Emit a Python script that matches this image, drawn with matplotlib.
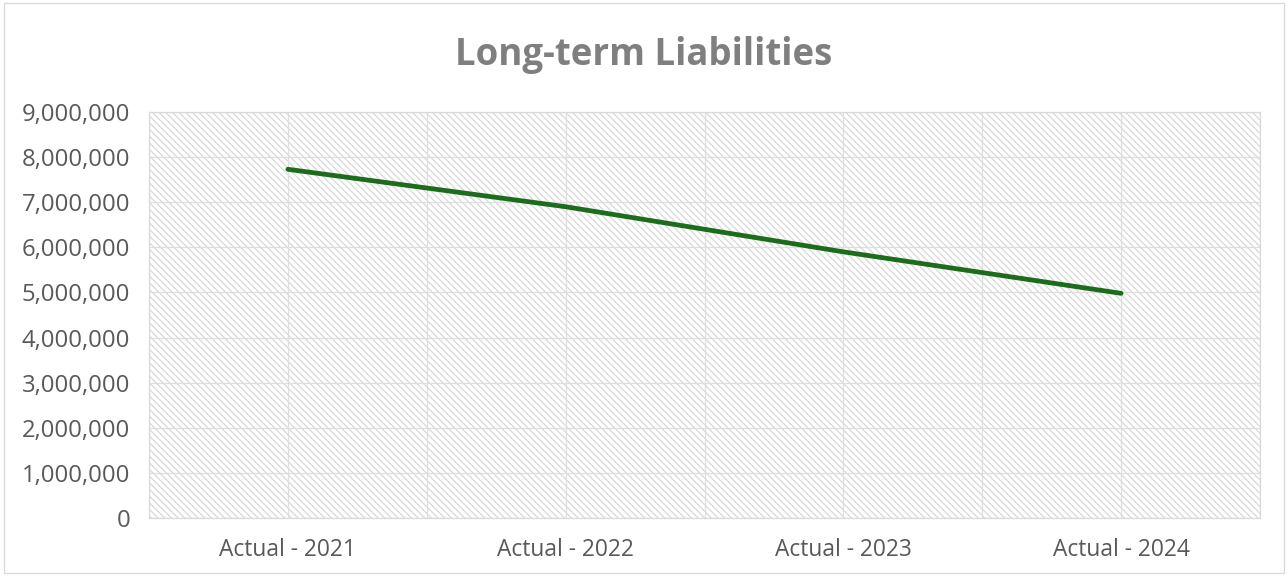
import matplotlib
matplotlib.use("Agg")
import matplotlib.pyplot as plt
from matplotlib.patches import Rectangle
from matplotlib.ticker import FuncFormatter

# --------------------------------------------------
# DATA
# --------------------------------------------------
periods = ["Actual - 2021", "Actual - 2022", "Actual - 2023", "Actual - 2024"]
liabilities = [7730000, 6900000, 5900000, 4980000]
y_ticks = list(range(0, 9000001, 1000000))

TITLE = "Long-term Liabilities"
LINE_COLOR = "#1c6c1c"
GRID_COLOR = "#dedede"
HATCH_COLOR = "#dadada"
TEXT_COLOR = "#595959"

plt.rcParams["font.family"] = ["Open Sans", "DejaVu Sans"]
plt.rcParams["hatch.linewidth"] = 1.2

DPI = 80
fig = plt.figure(figsize=(1288 / DPI, 576 / DPI), dpi=DPI)
ax = fig.add_axes([149 / 1288, 58 / 576, 1111 / 1288, 406 / 576])

# chart frame
fig.patches.append(Rectangle((4 / 1288, 3 / 576), 1280 / 1288, 570 / 576,
                             transform=fig.transFigure, fill=False,
                             edgecolor="#d9d9d9", linewidth=1.2))

# hatched plot area
ax.set_facecolor("white")
ax.add_patch(Rectangle((0, 0), 1, 1, transform=ax.transAxes, facecolor="white",
                       edgecolor=HATCH_COLOR, linewidth=0, hatch="\\\\\\\\", zorder=0.5))

x = list(range(len(periods)))
ax.plot(x, liabilities, color=LINE_COLOR, linewidth=4.3,
        solid_capstyle="round", zorder=3)

ax.set_xlim(-0.5, len(periods) - 0.5)
ax.set_ylim(0, 9000000)
ax.set_xticks(x)
ax.set_xticklabels(periods)
ax.set_xticks([i + 0.5 for i in range(-1, len(periods))], minor=True)
ax.set_yticks(y_ticks)
ax.yaxis.set_major_formatter(FuncFormatter(lambda v, p: f"{int(v):,}"))

ax.grid(True, which="major", axis="both", color=GRID_COLOR, linewidth=1.1, zorder=1)
ax.grid(True, which="minor", axis="x", color=GRID_COLOR, linewidth=1.1, zorder=1)

ax.tick_params(axis="both", which="both", length=0, colors=TEXT_COLOR, labelsize=20.5)
ax.tick_params(axis="y", labelsize=21.5, pad=17)
ax.tick_params(axis="x", pad=18)

for side, sp in ax.spines.items():
    sp.set_color("#d9d9d9")
    sp.set_linewidth(1.1)

fig.text(0.5, 1 - 55 / 576, TITLE, ha="center", va="center",
         fontsize=33, fontweight="bold", color="#7f7f7f")

fig.savefig("out.png", dpi=DPI, facecolor="white")
